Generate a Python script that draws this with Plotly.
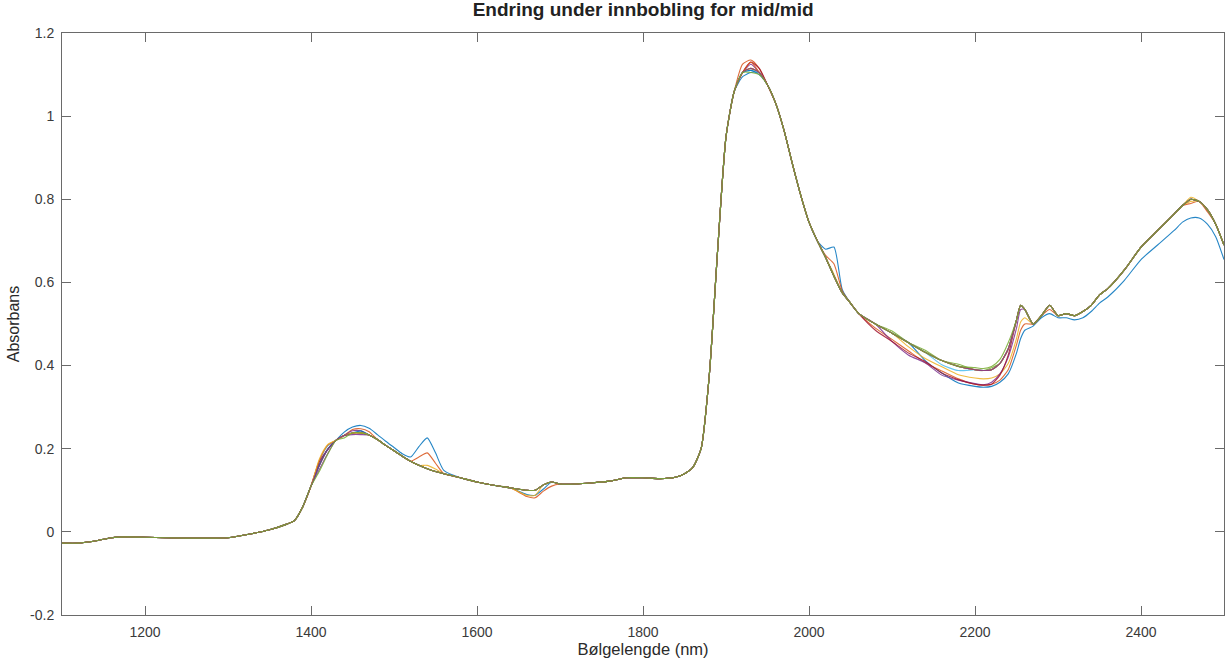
import plotly.graph_objects as go

# ---------------- data ----------------
wavelength = [1100, 1120, 1140, 1160, 1180, 1200, 1250, 1300, 1330, 1350, 1370, 1380, 1390, 1400,
              1410, 1420, 1430, 1440, 1450, 1460, 1470, 1480, 1490, 1500, 1510, 1520, 1530, 1540,
              1550, 1560, 1580, 1600, 1620, 1640, 1660, 1670, 1680, 1690, 1700, 1720, 1740, 1760,
              1780, 1800, 1820, 1840, 1850, 1860, 1870, 1880, 1890, 1900, 1910, 1920, 1930, 1940,
              1950, 1960, 1970, 1980, 1990, 2000, 2010, 2020, 2030, 2040, 2050, 2060, 2080, 2100,
              2120, 2140, 2160, 2180, 2200, 2210, 2220, 2230, 2240, 2250, 2255, 2260, 2270, 2280,
              2290, 2300, 2310, 2320, 2330, 2340, 2350, 2360, 2380, 2400, 2420, 2440, 2450, 2460,
              2470, 2480, 2490, 2500]

base_absorbance = [-0.027, -0.027, -0.022, -0.014, -0.012, -0.013, -0.015, -0.014, -0.004, 0.005,
                   0.018, 0.027, 0.06, 0.11, 0.16, 0.198, 0.22, 0.232, 0.238, 0.238, 0.233, 0.222,
                   0.208, 0.195, 0.182, 0.17, 0.16, 0.152, 0.145, 0.14, 0.13, 0.12, 0.112, 0.106,
                   0.1, 0.1, 0.113, 0.12, 0.115, 0.115, 0.118, 0.122, 0.13, 0.13, 0.128, 0.132,
                   0.14, 0.155, 0.2, 0.38, 0.68, 0.95, 1.06, 1.105, 1.115, 1.105, 1.075, 1.03,
                   0.965, 0.885, 0.81, 0.745, 0.7, 0.66, 0.615, 0.575, 0.55, 0.525, 0.5, 0.478,
                   0.455, 0.432, 0.412, 0.398, 0.39, 0.388, 0.39, 0.405, 0.44, 0.51, 0.545, 0.535,
                   0.5, 0.52, 0.545, 0.52, 0.525, 0.52, 0.53, 0.545, 0.57, 0.585, 0.63, 0.685,
                   0.725, 0.765, 0.785, 0.8, 0.795, 0.775, 0.74, 0.69]

# deviations of each measured spectrum from the base curve (wavelength: delta)
dev_1 = {1440: 0.008, 1450: 0.014, 1460: 0.018, 1470: 0.016, 1480: 0.012, 1490: 0.01, 1500: 0.008,
         1510: 0.006, 1520: 0.01, 1530: 0.045, 1540: 0.074, 1550: 0.045, 1560: 0.008,
         1660: -0.01, 1670: -0.012, 1680: -0.01, 1920: -0.01, 1930: -0.01,
         2020: 0.02, 2030: 0.07, 2040: 0.008, 2140: -0.02, 2160: -0.03, 2180: -0.04, 2200: -0.04,
         2210: -0.04, 2220: -0.04, 2230: -0.045, 2240: -0.06, 2250: -0.08, 2255: -0.08,
         2260: -0.05, 2270: -0.005, 2280: -0.005, 2290: -0.02, 2300: -0.005, 2310: -0.01,
         2320: -0.01, 2330: -0.015, 2340: -0.015, 2350: -0.02, 2360: -0.02, 2380: -0.025,
         2400: -0.03, 2420: -0.035, 2440: -0.04, 2450: -0.04, 2460: -0.045, 2470: -0.04,
         2480: -0.035, 2490: -0.03, 2500: -0.035}
dev_2 = {1450: 0.008, 1460: 0.01, 1470: 0.008, 1530: 0.02, 1540: 0.038, 1550: 0.02,
         1660: -0.015, 1670: -0.018, 1680: -0.015, 1690: -0.01, 1920: 0.02, 1930: 0.02,
         1940: 0.01, 2020: 0.005, 2030: 0.03, 2040: 0.005, 2080: -0.01, 2100: -0.015,
         2120: -0.02, 2140: -0.025, 2160: -0.025, 2180: -0.03, 2200: -0.035, 2210: -0.035,
         2220: -0.035, 2230: -0.04, 2240: -0.05, 2250: -0.06, 2255: -0.06, 2260: -0.035,
         2290: -0.01, 2460: -0.01, 2480: -0.005}
dev_3 = {1540: 0.008, 1550: 0.006, 1660: -0.012, 1670: -0.012, 2030: 0.005, 2120: -0.01,
         2140: -0.015, 2160: -0.015, 2180: -0.02, 2200: -0.02, 2210: -0.02, 2220: -0.02,
         2230: -0.025, 2240: -0.035, 2250: -0.045, 2255: -0.04, 2260: -0.02, 2460: -0.005}
dev_4 = {1410: -0.01, 1420: -0.01, 1450: 0.005, 1460: 0.005, 1930: 0.01, 2100: -0.02,
         2120: -0.03, 2140: -0.025, 2160: -0.035, 2180: -0.033, 2200: -0.033, 2210: -0.034,
         2220: -0.03, 2230: -0.025, 2240: -0.02, 2250: -0.02, 2255: -0.01}
dev_5 = {2100: 0.005, 2140: 0.005, 2180: 0.005, 2220: 0.005}
dev_6 = {1410: 0.01, 1420: 0.008, 1930: -0.005, 2160: -0.01, 2180: -0.01}
dev_7 = {1410: 0.008, 1930: 0.015, 1940: 0.01, 2080: -0.015, 2100: -0.02, 2120: -0.025,
         2140: -0.022, 2160: -0.03, 2180: -0.032, 2200: -0.035, 2210: -0.035, 2220: -0.035,
         2230: -0.028, 2240: -0.015}
dev_8 = {1460: 0.005, 1930: -0.005, 1940: -0.005}
dev_9 = {1410: 0.012, 1420: 0.01, 1930: 0.015}
dev_10 = {1410: 0.015, 1420: 0.012, 2460: 0.005}
dev_11 = {1450: -0.004, 1460: -0.004}
dev_12 = {1410: -0.015, 1420: -0.012, 1440: -0.006, 1930: -0.01, 1940: -0.005, 2200: 0.005,
          2210: 0.005, 2220: 0.008, 2230: 0.01, 2240: 0.015}

deviations = [dev_1, dev_2, dev_3, dev_4, dev_5, dev_6, dev_7, dev_8, dev_9, dev_10, dev_11, dev_12]
line_colors = ["#0072BD", "#D95319", "#EDB120", "#7E2F8E", "#77AC30", "#4DBEEE", "#A2142F"]

x_ticks = [1200, 1400, 1600, 1800, 2000, 2200, 2400]
y_ticks = [-0.2, 0, 0.2, 0.4, 0.6, 0.8, 1, 1.2]
y_tick_text = ["-0.2", "0", "0.2", "0.4", "0.6", "0.8", "1", "1.2"]

title_text = "Endring under innbobling for mid/mid"
x_title = "Bølgelengde (nm)"
y_title = "Absorbans"

# ---------------- figure ----------------
fig = go.Figure()
for i, dev in enumerate(deviations):
    ys = [b + dev.get(w, 0.0) for w, b in zip(wavelength, base_absorbance)]
    fig.add_trace(go.Scatter(
        x=wavelength, y=ys, mode="lines",
        line=dict(color=line_colors[i % len(line_colors)], width=1.1, shape="spline", smoothing=0.6),
        opacity=0.85, showlegend=False, hoverinfo="skip"))

font_family = "Liberation Sans, Arial, sans-serif"
axis_common = dict(
    showline=True, linecolor="#6a6a6a", linewidth=1, mirror="ticks",
    ticks="inside", ticklen=9, tickcolor="#6a6a6a", tickwidth=1,
    showgrid=False, zeroline=False,
    tickfont=dict(family=font_family, size=14, color="#3a3a3a"),
)

fig.update_layout(
    width=1225, height=668,
    margin=dict(l=62, r=1, t=33, b=53, autoexpand=False),
    paper_bgcolor="white", plot_bgcolor="white",
    title=dict(text="<b>" + title_text + "</b>", x=0.525, xanchor="center", y=0.996, yanchor="top",
               font=dict(family=font_family, size=19, color="#222222")),
    xaxis=dict(range=[1100, 2500], tickvals=x_ticks, ticklabelstandoff=4,
               title=dict(text=x_title, standoff=3,
                          font=dict(family=font_family, size=16.5, color="#2a2a2a")),
               automargin=False, **axis_common),
    yaxis=dict(range=[-0.2, 1.2], tickvals=y_ticks, ticktext=y_tick_text, ticklabelstandoff=4,
               title=dict(text=y_title, standoff=6,
                          font=dict(family=font_family, size=16, color="#2a2a2a")),
               automargin=False, **axis_common),
)

fig.write_html("out.html")
